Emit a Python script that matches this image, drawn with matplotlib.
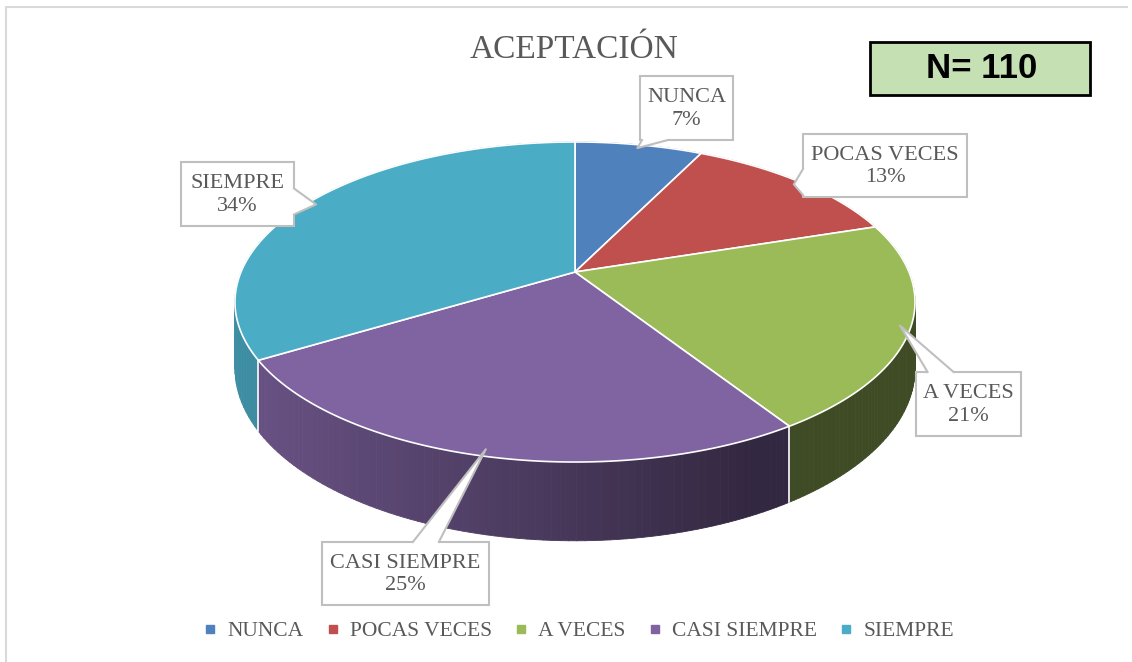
import numpy as np
import matplotlib.pyplot as plt
from matplotlib.patches import Polygon, Rectangle
from matplotlib.collections import PolyCollection
from matplotlib.lines import Line2D
from matplotlib.colors import to_rgb

categories = ['NUNCA', 'POCAS VECES', 'A VECES', 'CASI SIEMPRE', 'SIEMPRE']
counts = [8, 14, 23, 28, 37]
colors = ['#4F81BD', '#C0504D', '#9BBB59', '#8064A2', '#4BACC6']
total = 110
title = 'ACEPTACIÓN'

W, H = 1132, 662
CX, CY = 575, 272          # pie centre in pixels
A, B, K = 334, 154.4, 0.1875  # ellipse radii and perspective
DROP = 64                  # wall thickness
TEXT = '#595959'
BORDER = '#BFBFBF'
SERIF = 'Liberation Serif'

# label boxes (x0, y0, x1, y1) in pixels
boxes = [(640, 76, 733, 140), (803, 134, 967, 197), (916, 372, 1021, 436),
         (322, 542, 489, 605), (181, 162, 294, 226)]


def proj(t, r=1.0, drop=0.0):
    u = r * np.sin(t)
    v = -r * np.cos(t)
    d = 1 - K * v
    return CX + A * u / d, CY + (B * v + drop) / d


def shade(x):
    return max(0.40, 0.80 - 0.000835 * (x - 270))


def callout(ax, box, tip, text, base=26):
    x0, y0, x1, y1 = box
    cx, cy = (x0 + x1) / 2, (y0 + y1) / 2
    dx, dy = tip[0] - cx, tip[1] - cy
    tx = (x1 - cx) / abs(dx) if dx else np.inf
    ty = (y1 - cy) / abs(dy) if dy else np.inf
    if tx < ty:
        ex = x1 if dx > 0 else x0
        ey = np.clip(cy + dy * tx, y0 + base / 2 + 2, y1 - base / 2 - 2)
        p1, p2 = (ex, ey - base / 2), (ex, ey + base / 2)
        inn = (-2 if dx > 0 else 2, 0)
    else:
        ey = y1 if dy > 0 else y0
        ex = np.clip(cx + dx * ty, x0 + base / 2 + 2, x1 - base / 2 - 2)
        p1, p2 = (ex - base / 2, ey), (ex + base / 2, ey)
        inn = (0, -2 if dy > 0 else 2)
    ax.add_patch(Rectangle((x0, y0), x1 - x0, y1 - y0, fc='white', ec=BORDER, lw=1.5, zorder=5))
    tri = [(p1[0] + inn[0], p1[1] + inn[1]), p1, tip, p2, (p2[0] + inn[0], p2[1] + inn[1])]
    ax.add_patch(Polygon(tri, closed=True, fc='white', ec='none', zorder=6))
    ax.plot([p1[0], tip[0], p2[0]], [p1[1], tip[1], p2[1]], color=BORDER, lw=1.5, zorder=7)
    ax.text(cx, cy + 1, text, ha='center', va='center', fontsize=16, color=TEXT,
            family=SERIF, linespacing=1.25, zorder=8)


fig = plt.figure(figsize=(W / 100, H / 100), dpi=100)
ax = fig.add_axes([0, 0, 1, 1])
ax.set_xlim(0, W)
ax.set_ylim(H, 0)
ax.axis('off')

fracs = np.array(counts) / total
edges = np.concatenate([[0], np.cumsum(fracs)]) * 2 * np.pi

# side walls, back to front
quads, qcols, depth = [], [], []
for i in range(len(counts)):
    ts = np.linspace(edges[i], edges[i + 1], 80)
    base = np.array(to_rgb(colors[i]))
    for a, b in zip(ts[:-1], ts[1:]):
        p1, p2 = proj(a), proj(b)
        p3, p4 = proj(b, drop=DROP), proj(a, drop=DROP)
        quads.append([p1, p2, p3, p4])
        xm = (p1[0] + p2[0]) / 2
        qcols.append(tuple(base * shade(xm)))
        depth.append(-np.cos((a + b) / 2))
order = np.argsort(depth)
pc = PolyCollection([quads[j] for j in order], facecolors=[qcols[j] for j in order],
                    edgecolors=[qcols[j] for j in order], linewidths=0.6)
ax.add_collection(pc)

# white seams on the front wall
for e in edges:
    if -np.cos(e) > 0:
        x0, y0 = proj(e)
        x1, y1 = proj(e, drop=DROP)
        ax.plot([x0, x1], [y0, y1], color='white', lw=1.2)

# top faces
for i in range(len(counts)):
    ts = np.linspace(edges[i], edges[i + 1], 120)
    pts = [(CX, CY)] + [proj(t) for t in ts]
    ax.add_patch(Polygon(pts, closed=True, fc=colors[i], ec='white', lw=1.2))

# callout labels
for i, name in enumerate(categories):
    mid = (edges[i] + edges[i + 1]) / 2
    tip = proj(mid, r=0.97)
    pct = round(100 * counts[i] / total)
    callout(ax, boxes[i], tip, f'{name}\n{pct}%')

ax.text(574, 50, title, ha='center', va='center', fontsize=24, color=TEXT, family=SERIF)

# N box
ax.add_patch(Rectangle((870, 42), 220, 53, fc='#C5E0B3', ec='black', lw=2))
ax.text(982, 68, 'N= 110', ha='center', va='center', fontsize=25,
        fontweight='heavy', family='Liberation Sans', color='black')

# outer frame
ax.plot([6, 6, 1127], [662, 7, 7], color='#D9D9D9', lw=1.5)

handles = [Line2D([], [], marker='s', ls='', color=c, markersize=5.5) for c in colors]
ax.legend(handles, categories, loc='center', bbox_to_anchor=(0.5115, 1 - 631 / H),
          ncol=5, frameon=False, handlelength=0.6, handletextpad=0.5,
          columnspacing=1.05, prop={'family': SERIF, 'size': 15.5}, labelcolor=TEXT)

fig.savefig('out.png', dpi=100)
